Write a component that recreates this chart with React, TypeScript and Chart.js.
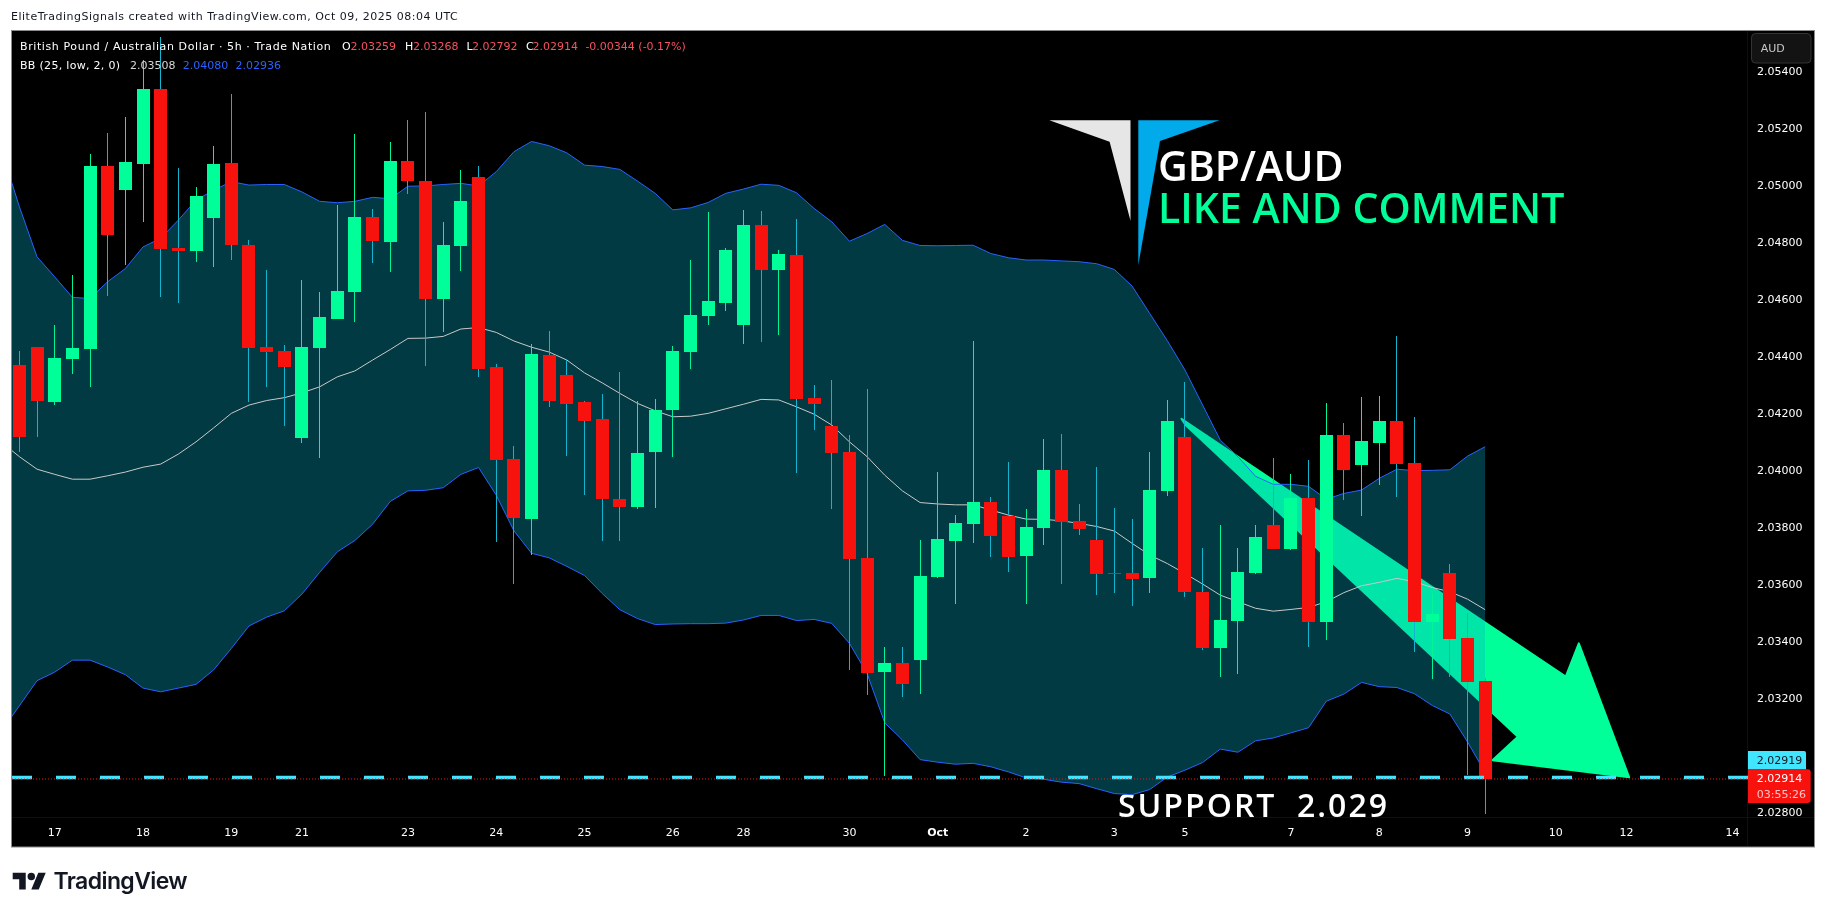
import React, { useEffect, useRef } from "react";
import { Chart, registerables } from "chart.js";

Chart.register(...registerables);

const opens = [
  2.04366, 2.04429, 2.04237, 2.04387, 2.04422, 2.05065, 2.0498, 2.05072, 2.05335, 2.04777,
  2.04766, 2.04882, 2.05075, 2.04787, 2.04429, 2.04415, 2.0411, 2.04426, 2.04528, 2.04622,
  2.04886, 2.04798, 2.05082, 2.05012, 2.04598, 2.04784, 2.05026, 2.04359, 2.04037, 2.03826,
  2.04401, 2.04331, 2.04237, 2.04177, 2.03896, 2.03868, 2.04061, 2.04208, 2.04412, 2.04538,
  2.04584, 2.04507, 2.04858, 2.047, 2.04752, 2.04251, 2.04152, 2.04061, 2.03689, 2.03289,
  2.03321, 2.03331, 2.03622, 2.03749, 2.03808, 2.03886, 2.03837, 2.03696, 2.03794, 2.03998,
  2.03819, 2.03752, 2.03637, 2.03637, 2.03619, 2.03924, 2.04114, 2.0357, 2.03373, 2.03468,
  2.03637, 2.03805, 2.03721, 2.039, 2.03465, 2.04121, 2.04015, 2.04093, 2.0417, 2.04022,
  2.03465, 2.03637, 2.03408, 2.03259,
];
const closes = [
  2.04115, 2.0424, 2.04391, 2.04426, 2.05065, 2.04822, 2.05079, 2.05335, 2.04773, 2.04766,
  2.04959, 2.05072, 2.04787, 2.04426, 2.04412, 2.04359, 2.04429, 2.04535, 2.04626, 2.04886,
  2.04801, 2.05082, 2.05012, 2.04598, 2.04787, 2.04942, 2.04352, 2.04033, 2.03829, 2.04405,
  2.0424, 2.04229, 2.0417, 2.03896, 2.03868, 2.04058, 2.04208, 2.04415, 2.04542, 2.04591,
  2.0477, 2.04858, 2.047, 2.04756, 2.04247, 2.04231, 2.04058, 2.03686, 2.03286, 2.03321,
  2.03247, 2.03626, 2.03756, 2.03812, 2.03886, 2.03766, 2.03693, 2.03798, 2.03998, 2.03815,
  2.03791, 2.03633, 2.03633, 2.03615, 2.03928, 2.0417, 2.0357, 2.03373, 2.03472, 2.0364,
  2.03763, 2.03721, 2.039, 2.03465, 2.04121, 2.03998, 2.041, 2.0417, 2.04019, 2.03465,
  2.03493, 2.03405, 2.03254, 2.02914,
];
const highs = [
  2.04417, 2.04429, 2.04507, 2.04682, 2.05107, 2.0518, 2.05237, 2.05437, 2.05517, 2.05058,
  2.04991, 2.05135, 2.05317, 2.04805, 2.047, 2.04437, 2.04665, 2.04622, 2.04928, 2.05177,
  2.04914, 2.05149, 2.05226, 2.05254, 2.04868, 2.05051, 2.05065, 2.0437, 2.04082, 2.0444,
  2.04486, 2.04384, 2.0424, 2.04265, 2.04342, 2.0424, 2.04247, 2.04433, 2.04735, 2.04903,
  2.04777, 2.0491, 2.04907, 2.0477, 2.04879, 2.04296, 2.04314, 2.04121, 2.04282, 2.03377,
  2.03377, 2.03752, 2.03991, 2.0384, 2.04451, 2.03904, 2.04026, 2.03861, 2.04107, 2.04124,
  2.03879, 2.04008, 2.03865, 2.03826, 2.04061, 2.04244, 2.04307, 2.03724, 2.03805, 2.03724,
  2.03805, 2.0404, 2.03984, 2.04033, 2.04233, 2.04163, 2.04255, 2.04258, 2.04468, 2.04185,
  2.03565, 2.03668, 2.03495, 2.03268,
];
const lows = [
  2.04062, 2.04115, 2.04226, 2.04335, 2.0429, 2.0461, 2.04717, 2.04868, 2.04606, 2.04585,
  2.04728, 2.0471, 2.04735, 2.04237, 2.0429, 2.04152, 2.04093, 2.04041, 2.04528, 2.04517,
  2.04724, 2.04693, 2.04966, 2.04363, 2.04482, 2.04696, 2.04324, 2.03745, 2.03598, 2.037,
  2.04219, 2.04047, 2.0391, 2.03749, 2.03749, 2.03861, 2.03865, 2.04044, 2.04352, 2.04507,
  2.04556, 2.0444, 2.04447, 2.04472, 2.03986, 2.04138, 2.03861, 2.03296, 2.03208, 2.02924,
  2.03201, 2.03212, 2.03619, 2.03528, 2.03742, 2.03693, 2.0364, 2.03528, 2.03735, 2.03598,
  2.0377, 2.03559, 2.03566, 2.03521, 2.03566, 2.03907, 2.03552, 2.03366, 2.03272, 2.03282,
  2.03633, 2.03721, 2.03717, 2.03377, 2.03401, 2.03893, 2.03837, 2.03945, 2.03903, 2.03359,
  2.03265, 2.03272, 2.02928, 2.02792,
];

// Bollinger bands start one bar before the first visible candle
const bbUpper = [
  2.05117, 2.04922, 2.04746, 2.04676, 2.04604, 2.046, 2.04659, 2.04705, 2.04781, 2.04811,
  2.04875, 2.04945, 2.0498, 2.0501, 2.04998, 2.05, 2.05, 2.04974, 2.04941, 2.04936,
  2.04941, 2.04955, 2.0495, 2.04994, 2.04995, 2.05, 2.05004, 2.04995, 2.05045, 2.05115,
  2.05151, 2.05136, 2.05111, 2.05068, 2.05063, 2.05053, 2.05012, 2.04969, 2.04911, 2.04918,
  2.04937, 2.04969, 2.04984, 2.05001, 2.04997, 2.04971, 2.04916, 2.04869, 2.04801, 2.04828,
  2.0486, 2.04804, 2.04786, 2.04785, 2.04786, 2.04787, 2.04758, 2.04743, 2.04735, 2.04735,
  2.04732, 2.04729, 2.04722, 2.04702, 2.04644, 2.04548, 2.04452, 2.04349, 2.04226, 2.04103,
  2.04045, 2.03976, 2.03948, 2.03948, 2.03941, 2.03896, 2.03916, 2.03928, 2.03969, 2.04001,
  2.03996, 2.03997, 2.03999, 2.04047, 2.0408,
];
const bbLower = [
  2.03083, 2.03171, 2.03259, 2.03289, 2.03331, 2.03331, 2.03307, 2.0328, 2.03233, 2.0322,
  2.03233, 2.03246, 2.03297, 2.03372, 2.03451, 2.03482, 2.03504, 2.03563, 2.03639, 2.03711,
  2.03751, 2.03808, 2.03888, 2.03925, 2.03927, 2.03936, 2.03983, 2.04007, 2.0391, 2.03785,
  2.03706, 2.0369, 2.0366, 2.03628, 2.03565, 2.03508, 2.03477, 2.03456, 2.03458, 2.03459,
  2.03459, 2.03461, 2.03472, 2.03488, 2.03488, 2.0347, 2.03474, 2.0346, 2.0339, 2.03284,
  2.03111, 2.03051, 2.02982, 2.02973, 2.02966, 2.02969, 2.02957, 2.02939, 2.02918, 2.02913,
  2.02903, 2.02898, 2.0288, 2.02863, 2.02859, 2.02877, 2.02921, 2.02945, 2.02972, 2.03019,
  2.03008, 2.03048, 2.03058, 2.03076, 2.03094, 2.03187, 2.03212, 2.03253, 2.03238, 2.03235,
  2.03213, 2.03172, 2.03142, 2.03044, 2.02936,
];
const bbBasis = [
  2.04095, 2.04045, 2.04001, 2.03983, 2.03966, 2.03966, 2.03978, 2.03991, 2.04008, 2.04019,
  2.04054, 2.04097, 2.04146, 2.04197, 2.04226, 2.04242, 2.04252, 2.04269, 2.0429, 2.04325,
  2.04346, 2.04384, 2.04421, 2.0446, 2.04461, 2.04467, 2.04493, 2.04498, 2.04481, 2.04451,
  2.04429, 2.04412, 2.04384, 2.04339, 2.04304, 2.04267, 2.04232, 2.04206, 2.04185, 2.04187,
  2.04197, 2.04213, 2.04229, 2.04246, 2.04244, 2.0422, 2.04194, 2.04156, 2.04097, 2.04045,
  2.0398, 2.03925, 2.03884, 2.03879, 2.03876, 2.03876, 2.03858, 2.0384, 2.03826, 2.03825,
  2.0382, 2.03811, 2.038, 2.03784, 2.03741, 2.037, 2.0367, 2.03635, 2.03598, 2.03559,
  2.03536, 2.03513, 2.03503, 2.03509, 2.03516, 2.03536, 2.03568, 2.03592, 2.03604, 2.03618,
  2.03606, 2.03586, 2.03571, 2.03545, 2.03508,
];

const bidPrice = 2.02919;
const lastPrice = 2.02914;

const xTickIndex = [2, 7, 12, 16, 22, 27, 32, 37, 41, 47, 52, 57, 62, 66, 72, 77, 82, 87, 91, 97];
const xTickLabels = ["17", "18", "19", "21", "23", "24", "25", "26", "28", "30", "Oct", "2", "3", "5", "7", "8", "9", "10", "12", "14"];
const yTickValues = [2.028, 2.03, 2.032, 2.034, 2.036, 2.038, 2.04, 2.042, 2.044, 2.046, 2.048, 2.05, 2.052, 2.054];

// Drawn arrow: [bar index, price]
const arrowIndex = [65.8, 87.56, 88.3, 91.15, 83.41, 84.85, 66.05];
const arrowPrice = [2.04178, 2.03273, 2.0339, 2.0292, 2.0298, 2.03062, 2.04155];

const creditText = "EliteTradingSignals created with TradingView.com, Oct 09, 2025 08:04 UTC";
const FONT = '"DejaVu Sans"';
const RED = "#f7120e";
const GREEN = "#00ff99";
const SOFT_RED = "#f7525f";
const BLUE = "#2962ff";

const legendRow1: [string, number, string, string][] = [
  ["British Pound / Australian Dollar · 5h · Trade Nation", 20, "#ffffff", "0.6px"],
  ["O", 342, "#ffffff", "0px"], ["2.03259", 350.5, SOFT_RED, "0px"],
  ["H", 405, "#ffffff", "0px"], ["2.03268", 413, SOFT_RED, "0px"],
  ["L", 466.5, "#ffffff", "0px"], ["2.02792", 472, SOFT_RED, "0px"],
  ["C", 526, "#ffffff", "0px"], ["2.02914", 532.6, SOFT_RED, "0px"],
  ["-0.00344 (-0.17%)", 585.4, SOFT_RED, "0px"],
];
const legendRow2: [string, number, string, string][] = [
  ["BB (25, low, 2, 0)", 20, "#ffffff", "0.3px"],
  ["2.03508", 130, "#d6d6d6", "0px"],
  ["2.04080", 182.7, BLUE, "0px"],
  ["2.02936", 235.5, BLUE, "0px"],
];

function poly(ctx: CanvasRenderingContext2D, pts: number[][], color: string) {
  ctx.beginPath();
  pts.forEach(([x, y], i) => (i ? ctx.lineTo(x, y) : ctx.moveTo(x, y)));
  ctx.closePath();
  ctx.fillStyle = color;
  ctx.fill();
}

function text(
  ctx: CanvasRenderingContext2D,
  s: string,
  x: number,
  y: number,
  font: string,
  color: string,
  spacing = "0px"
) {
  ctx.font = font;
  ctx.fillStyle = color;
  ctx.textAlign = "left";
  ctx.textBaseline = "middle";
  (ctx as any).letterSpacing = spacing;
  ctx.fillText(s, x, y);
  (ctx as any).letterSpacing = "0px";
}

const pagePlugin = {
  id: "page",
  // Snap candle rectangles to whole pixels so wicks stay one crisp pixel wide
  afterDatasetsUpdate(chart: any) {
    chart.data.datasets.forEach((ds: any, di: number) => {
      if (ds.type !== "bar") return;
      chart.getDatasetMeta(di).data.forEach((el: any) => {
        el.x = Math.floor(el.x) + 0.5;
        el.y = Math.round(el.y);
        el.base = Math.round(el.base);
      });
    });
  },
  beforeDraw(chart: any) {
    const ctx: CanvasRenderingContext2D = chart.ctx;
    ctx.save();
    ctx.fillStyle = "#ffffff";
    ctx.fillRect(0, 0, 1826, 914);
    ctx.fillStyle = "#000000";
    ctx.fillRect(12, 30, 1802, 817);
    ctx.strokeStyle = "#8a8a8a";
    ctx.lineWidth = 1;
    ctx.strokeRect(11.5, 30.5, 1803, 816.5);
    ctx.strokeStyle = "#0f0f0f";
    ctx.beginPath();
    ctx.moveTo(12, 817.5);
    ctx.lineTo(1814, 817.5);
    ctx.moveTo(1747.5, 31);
    ctx.lineTo(1747.5, 846);
    ctx.stroke();

    text(ctx, creditText, 11, 17.5, `11px ${FONT}`, "#131722", "0.5px");

    // TradingView mark
    ctx.save();
    ctx.translate(12.7, 869);
    ctx.scale(0.93, 0.93);
    ctx.fillStyle = "#131722";
    ctx.fill(new Path2D("M14 22H7V11H0V4h14v18zM28 22h-8l7.5-18h8L28 22z"));
    ctx.beginPath();
    ctx.arc(20, 8, 4, 0, Math.PI * 2);
    ctx.fill();
    ctx.restore();
    text(ctx, "TradingView", 53.5, 882, `600 23px Inter`, "#131722", "-0.6px");
    ctx.restore();
  },
  beforeDatasetsDraw(chart: any) {
    const ctx: CanvasRenderingContext2D = chart.ctx;
    const { x, y } = chart.scales;
    ctx.save();
    // Logo and captions
    poly(ctx, [[1049.3, 120.3], [1130.5, 120.3], [1130.5, 220.7], [1109.6, 141.7]], "#e6e6e6");
    poly(ctx, [[1138.3, 120.3], [1219.5, 120.3], [1160, 141], [1138.3, 265]], "#00aaeb");
    text(ctx, "GBP/AUD", 1158, 169, `600 41px "Open Sans"`, "#ffffff");
    text(ctx, "LIKE AND COMMENT", 1158, 211, `600 41px "Open Sans"`, GREEN);
    text(ctx, "SUPPORT  2.029", 1118, 808, `600 32px "Open Sans"`, "#ffffff", "2px");
    // Arrow
    const pts = arrowIndex.map((v, i) => [x.getPixelForValue(v), y.getPixelForValue(arrowPrice[i])]);
    ctx.lineJoin = "round";
    ctx.strokeStyle = GREEN;
    ctx.lineWidth = 2;
    poly(ctx, pts, GREEN);
    ctx.stroke();
    ctx.restore();
  },
  afterDraw(chart: any) {
    const ctx: CanvasRenderingContext2D = chart.ctx;
    const { y } = chart.scales;
    ctx.save();
    const small = `11px ${FONT}`;
    legendRow1.forEach(([s, px, c, sp]) => text(ctx, s, px, 47, small, c, sp));
    legendRow2.forEach(([s, px, c, sp]) => text(ctx, s, px, 66.5, small, c, sp));

    // AUD currency box
    ctx.beginPath();
    ctx.roundRect(1751.5, 33.5, 59.5, 29.5, 4);
    ctx.fillStyle = "#131313";
    ctx.fill();
    ctx.strokeStyle = "#333333";
    ctx.stroke();
    text(ctx, "AUD", 1760.7, 49.5, `11px ${FONT}`, "#c8c8c8");

    // Price tags
    const yBid = y.getPixelForValue(bidPrice);
    const yLast = y.getPixelForValue(lastPrice);
    ctx.fillStyle = "#40e6ff";
    ctx.beginPath();
    ctx.roundRect(1748, yBid - 26.5, 58, 18.5, [0, 2, 0, 0]);
    ctx.fill();
    text(ctx, bidPrice.toFixed(5), 1756.7, yBid - 16.5, small, "#131722");
    ctx.fillStyle = RED;
    ctx.beginPath();
    ctx.roundRect(1748, yLast - 9.7, 62.7, 33.7, [0, 3, 3, 0]);
    ctx.fill();
    text(ctx, lastPrice.toFixed(5), 1756.7, yLast + 0.5, small, "#ffffff");
    text(ctx, "03:55:26", 1756.7, yLast + 16, small, "#ffc4c4");
    ctx.restore();
  },
};

export default function App() {
  const ref = useRef<HTMLCanvasElement>(null);
  useEffect(() => {
    document.body.style.margin = "0";
    const xMin = -0.419;
    const xMax = 97.88;
    const idx = opens.map((_, i) => i);
    const band = (arr: number[]) => arr.map((v, i) => ({ x: i - 1, y: v }));
    const isUp = (i: number) => closes[i] >= opens[i];
    const line = (extra: any) => ({
      type: "line",
      pointRadius: 0,
      borderWidth: 1,
      tension: 0,
      fill: false,
      ...extra,
    });
    const chart = new Chart(ref.current as HTMLCanvasElement, {
      type: "bar",
      data: {
        datasets: [
          line({
            label: "Upper",
            data: band(bbUpper),
            borderColor: BLUE,
            backgroundColor: "rgba(4,176,200,0.33)",
            fill: { target: 1 },
            order: 9,
          }),
          line({ label: "Lower", data: band(bbLower), borderColor: BLUE, order: 8 }),
          line({ label: "Basis", data: band(bbBasis), borderColor: "#c9c9c9", order: 7 }),
          {
            type: "bar",
            label: "Wick",
            data: idx.map((i) => ({ x: i, y: [lows[i], highs[i]] })),
            backgroundColor: idx.map((i) => (isUp(i) ? "#00f59a" : "#12b5d0")),
            barThickness: 1,
            inflateAmount: 0,
            grouped: false,
            order: 6,
          },
          {
            type: "bar",
            label: "Body",
            data: idx.map((i) => ({ x: i, y: [opens[i], closes[i]] })),
            backgroundColor: idx.map((i) => (isUp(i) ? GREEN : RED)),
            barThickness: 13,
            inflateAmount: 0,
            grouped: false,
            order: 5,
          },
          line({
            label: "Bid",
            data: [{ x: xMin, y: bidPrice }, { x: xMax, y: bidPrice }],
            borderColor: "#40e6ff",
            borderWidth: 3.5,
            borderDash: [20, 24],
            order: 2,
          }),
          line({
            label: "Last",
            data: [{ x: xMin, y: lastPrice }, { x: xMax, y: lastPrice }],
            borderColor: RED,
            borderDash: [1, 2],
            order: 1,
          }),
        ] as any,
      },
      options: {
        animation: false,
        responsive: false,
        devicePixelRatio: 1,
        layout: { autoPadding: false, padding: { left: 12, top: 30, right: 12, bottom: 67 } },
        plugins: { legend: { display: false }, tooltip: { enabled: false } },
        events: [],
        scales: {
          x: {
            type: "linear",
            offset: false,
            min: xMin,
            max: xMax,
            grid: { display: false, drawTicks: false },
            border: { display: false },
            afterBuildTicks: (s: any) => {
              s.ticks = xTickIndex.map((value) => ({ value }));
            },
            afterFit: (s: any) => {
              s.height = 30;
            },
            ticks: {
              autoSkip: false,
              maxRotation: 0,
              color: "#ffffff",
              padding: 10,
              font: (c: any) => ({
                family: "DejaVu Sans",
                size: 11,
                weight: xTickLabels[c.index] === "Oct" ? "bold" : "normal",
              }),
              callback: (_v: any, i: number) => xTickLabels[i],
            },
          },
          y: {
            type: "linear",
            position: "right",
            min: 2.027807,
            max: 2.055421,
            grid: { display: false, drawTicks: false },
            border: { display: false },
            afterBuildTicks: (s: any) => {
              s.ticks = yTickValues.map((value) => ({ value }));
            },
            afterFit: (s: any) => {
              s.width = 66;
            },
            ticks: {
              color: "#ffffff",
              padding: 9,
              labelOffset: 1.5,
              align: "center",
              crossAlign: "near",
              font: { family: "DejaVu Sans", size: 11 },
              callback: (v: any) => Number(v).toFixed(5),
            },
          },
        },
      } as any,
      plugins: [pagePlugin],
    });
    return () => chart.destroy();
  }, []);
  return (
    <div style={{ width: 1826, height: 914, background: "#fff" }}>
      <canvas ref={ref} width={1826} height={914} style={{ display: "block", width: 1826, height: 914 }} />
    </div>
  );
}
